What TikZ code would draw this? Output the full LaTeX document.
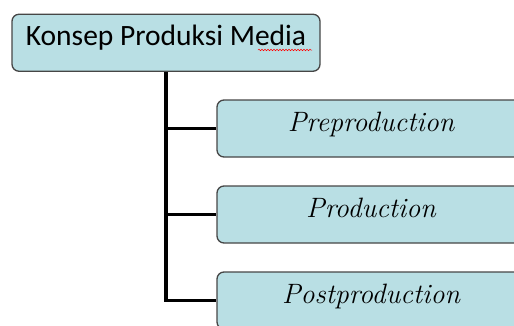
\documentclass[tikz,border=0pt]{standalone}
\usepackage{fontspec}
\setmainfont{Latin Modern Roman}
\newfontfamily\calib{Carlito}
\usetikzlibrary{decorations.pathmorphing}
\definecolor{boxfill}{RGB}{185,223,228}
\definecolor{boxline}{RGB}{70,70,70}
\tikzset{
  boxstyle/.style={draw=boxline, line width=1.3pt, fill=boxfill, rounded corners=7pt,
    minimum height=57pt, inner sep=0pt, text height=5pt, text depth=0pt},
  topbox/.style={boxstyle, minimum width=308pt, text height=4.5pt, font=\calib\fontsize{29.5pt}{32pt}\selectfont},
  subbox/.style={boxstyle, minimum width=308pt, font=\itshape\fontsize{28pt}{30pt}\selectfont},
  conn/.style={line width=3.5pt, black},
  squig/.style={red, line width=0.5pt, decorate, decoration={snake, amplitude=0.8pt, segment length=3pt}}
}
\begin{document}
\begin{tikzpicture}[x=1pt, y=-1pt]
\useasboundingbox (0,0) rectangle (514,325);
\clip (0,0) rectangle (514,325);
\draw[conn] (166,70) -- (166,300);
\node[topbox] (top) at (166,42.75) {Konsep Produksi Media};
\node[subbox] (pre) at (371,128.5) {Preproduction};
\node[subbox] (prod) at (371,214.5) {Production};
\node[subbox] (post) at (371,300.5) {Postproduction};
\coordinate (sqa) at (258,50);
\coordinate (sqb) at (312,50);
\draw[squig] (sqa) -- (sqb);
\draw[conn] (top.south) |- (post.west);
\draw[conn] (top.south |- pre.west) -- (pre.west);
\draw[conn] (top.south |- prod.west) -- (prod.west);
\end{tikzpicture}
\end{document}
